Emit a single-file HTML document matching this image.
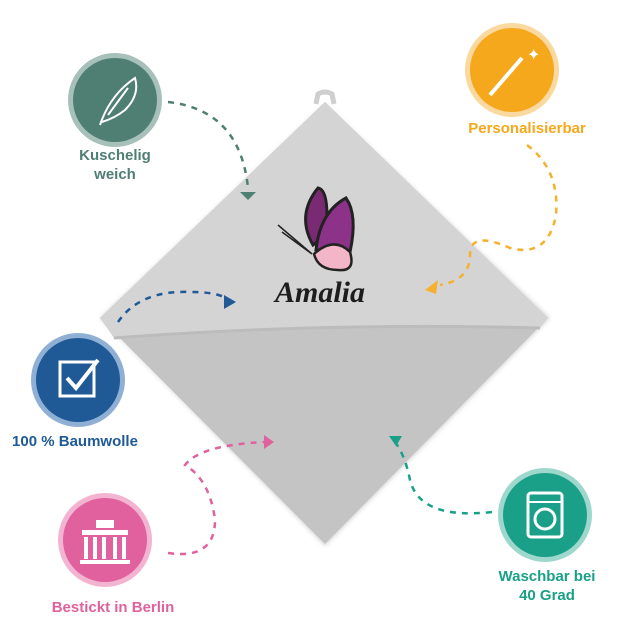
<!DOCTYPE html>
<html><head><meta charset="utf-8"><style>
body{margin:0;background:#fff;width:640px;height:640px;overflow:hidden;font-family:"Liberation Sans",sans-serif}
svg{display:block}
</style></head><body>
<svg width="640" height="640" viewBox="0 0 640 640">
<defs>
<filter id="sh"><feGaussianBlur stdDeviation="2"/></filter>
</defs>
<path d="M325 104 L550 318 L325 546 L100 318 Z" fill="#bdbdbd" filter="url(#sh)" opacity=".6"/>
<path d="M325 102 L548 318 L325 544 L100 318 Z" fill="#c4c4c4"/>
<path d="M325 102 L548 318 L540 328 Q330 322 114 338 L100 318 Z" fill="#d5d4d4"/>
<path d="M114 338 Q330 322 540 328" stroke="#bcbcbc" stroke-width="3" fill="none"/>
<path d="M316 104 L318 94 Q325 90 332 94 L334 104" stroke="#cfcfcf" stroke-width="5" fill="none"/>
<path d="M313 245 Q296 215 318 188 Q330 190 326 235 Z" fill="#7a2a72" stroke="#222" stroke-width="3"/>
<path d="M316 250 Q320 212 346 198 Q358 215 350 252 Z" fill="#8c3288" stroke="#222" stroke-width="3"/>
<path d="M314 254 Q334 236 350 252 Q356 272 338 270 Q318 270 314 254 Z" fill="#f2b6c8" stroke="#222" stroke-width="2.5"/>
<path d="M312 254 L278 225 M312 254 L282 232" stroke="#222" stroke-width="1.5"/>
<text x="320" y="302" text-anchor="middle" font-family="Liberation Serif,serif" font-style="italic" font-weight="bold" font-size="30" fill="#1d1d1d">Amalia</text>
<g fill="none" stroke-width="2.5" stroke-dasharray="6 6">
<path d="M168 102 Q240 110 248 188" stroke="#4f7f73"/>
<path d="M527 145 Q560 170 556 215 Q548 258 510 248 Q470 230 470 255 Q470 280 440 285" stroke="#f5b12e"/>
<path d="M118 322 Q140 290 190 292 Q220 292 228 300" stroke="#1f5a97"/>
<path d="M168 553 Q215 560 215 520 Q210 480 185 465 Q200 445 265 442" stroke="#e0619e"/>
<path d="M492 512 Q420 520 410 480 Q405 455 395 442" stroke="#1aa088"/>
</g>
<polygon points="240,192 256,192 248,200" fill="#4f7f73"/>
<polygon points="425,290 438,280 436,294" fill="#f5b12e"/>
<polygon points="224,295 236,302 224,309" fill="#1f5a97"/>
<polygon points="264,435 274,442 264,449" fill="#e0619e"/>
<polygon points="389,436 402,436 396,446" fill="#1aa088"/>
<circle cx="115" cy="100" r="47" fill="#a8c0ba"/><circle cx="115" cy="100" r="42" fill="#4f7f73"/>
<path d="M100 125 Q110 95 135 78 Q140 95 125 110 Q115 118 102 122 M108 115 L128 88" stroke="#fff" stroke-width="2" fill="none"/>
<circle cx="512" cy="70" r="47" fill="#fad9a0"/><circle cx="512" cy="70" r="42" fill="#f5a81c"/>
<path d="M490 95 L522 58" stroke="#fff" stroke-width="4"/><text x="527" y="60" fill="#fff" font-size="16">✦</text>
<circle cx="78" cy="380" r="47" fill="#8fb0d4"/><circle cx="78" cy="380" r="42" fill="#1f5a97"/>
<rect x="60" y="362" width="34" height="34" fill="none" stroke="#fff" stroke-width="3"/>
<path d="M67 378 L76 388 L98 360" stroke="#fff" stroke-width="4" fill="none"/>
<circle cx="105" cy="540" r="47" fill="#f2b4d0"/><circle cx="105" cy="540" r="42" fill="#e0619e"/>
<g fill="#fff"><rect x="82" y="530" width="46" height="5"/><rect x="80" y="560" width="50" height="4"/>
<rect x="84" y="537" width="4" height="22"/><rect x="93" y="537" width="4" height="22"/><rect x="102" y="537" width="4" height="22"/><rect x="113" y="537" width="4" height="22"/><rect x="122" y="537" width="4" height="22"/>
<rect x="96" y="520" width="18" height="8"/></g>
<circle cx="545" cy="515" r="47" fill="#9ed8cc"/><circle cx="545" cy="515" r="42" fill="#1aa088"/>
<rect x="528" y="493" width="34" height="44" rx="3" fill="none" stroke="#fff" stroke-width="3"/>
<line x1="528" y1="502" x2="562" y2="502" stroke="#fff" stroke-width="2"/>
<circle cx="545" cy="519" r="10" fill="none" stroke="#fff" stroke-width="3"/>
<g font-weight="bold" font-size="15" text-anchor="middle">
<text x="115" y="160" fill="#4f7f73">Kuschelig</text><text x="115" y="179" fill="#4f7f73">weich</text>
<text x="527" y="133" fill="#f5a81c">Personalisierbar</text>
<text x="75" y="446" fill="#1f5a97">100 % Baumwolle</text>
<text x="113" y="612" fill="#e0619e">Bestickt in Berlin</text>
<text x="547" y="581" fill="#1aa088">Waschbar bei</text><text x="547" y="600" fill="#1aa088">40 Grad</text>
</g>
</svg>
</body></html>
